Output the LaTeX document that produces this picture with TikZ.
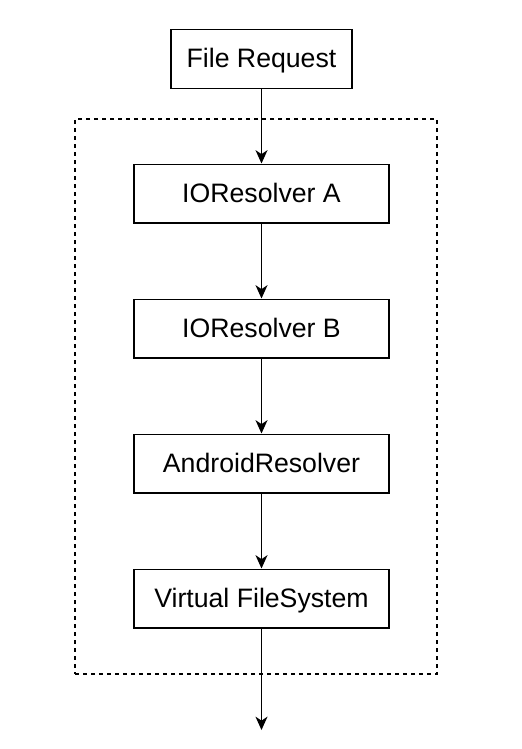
\documentclass[tikz,border=0pt]{standalone}
\usepackage{fontspec}
\setmainfont{Liberation Sans}
\usetikzlibrary{arrows.meta}
\begin{document}
\begin{tikzpicture}[x=0.75pt,y=-0.75pt,
  box/.style={draw, line width=1pt, minimum height=44pt, inner sep=0pt, text depth=1pt, font=\fontsize{20}{24}\selectfont},
  flow/.style={draw, line width=1pt, -{Stealth[length=10pt,width=9pt,inset=3pt]}},
  group/.style={draw, line width=0.9pt, dash pattern=on 3pt off 3pt}]
\useasboundingbox (0,0) rectangle (521,749);
\node[group, minimum width=271.5pt, minimum height=416.25pt, inner sep=0pt] (grp) at (256,396.5) {};
\node[box, minimum width=135.75pt] (fr) at (261.5,59) {File Request};
\node[box, minimum width=191.25pt] (a) at (261.5,193.5) {IOResolver A};
\node[box, minimum width=191.25pt] (b) at (261.5,328.5) {IOResolver B};
\node[box, minimum width=191.25pt] (ar) at (261.5,463.5) {AndroidResolver};
\node[box, minimum width=191.25pt] (vfs) at (261.5,598.5) {Virtual FileSystem};
\coordinate (end) at (261.5,730);
\draw[flow] (fr) -- (a);
\draw[flow] (a) -- (b);
\draw[flow] (b) -- (ar);
\draw[flow] (ar) -- (vfs);
\draw[flow] (vfs) -- (end);
\end{tikzpicture}
\end{document}
